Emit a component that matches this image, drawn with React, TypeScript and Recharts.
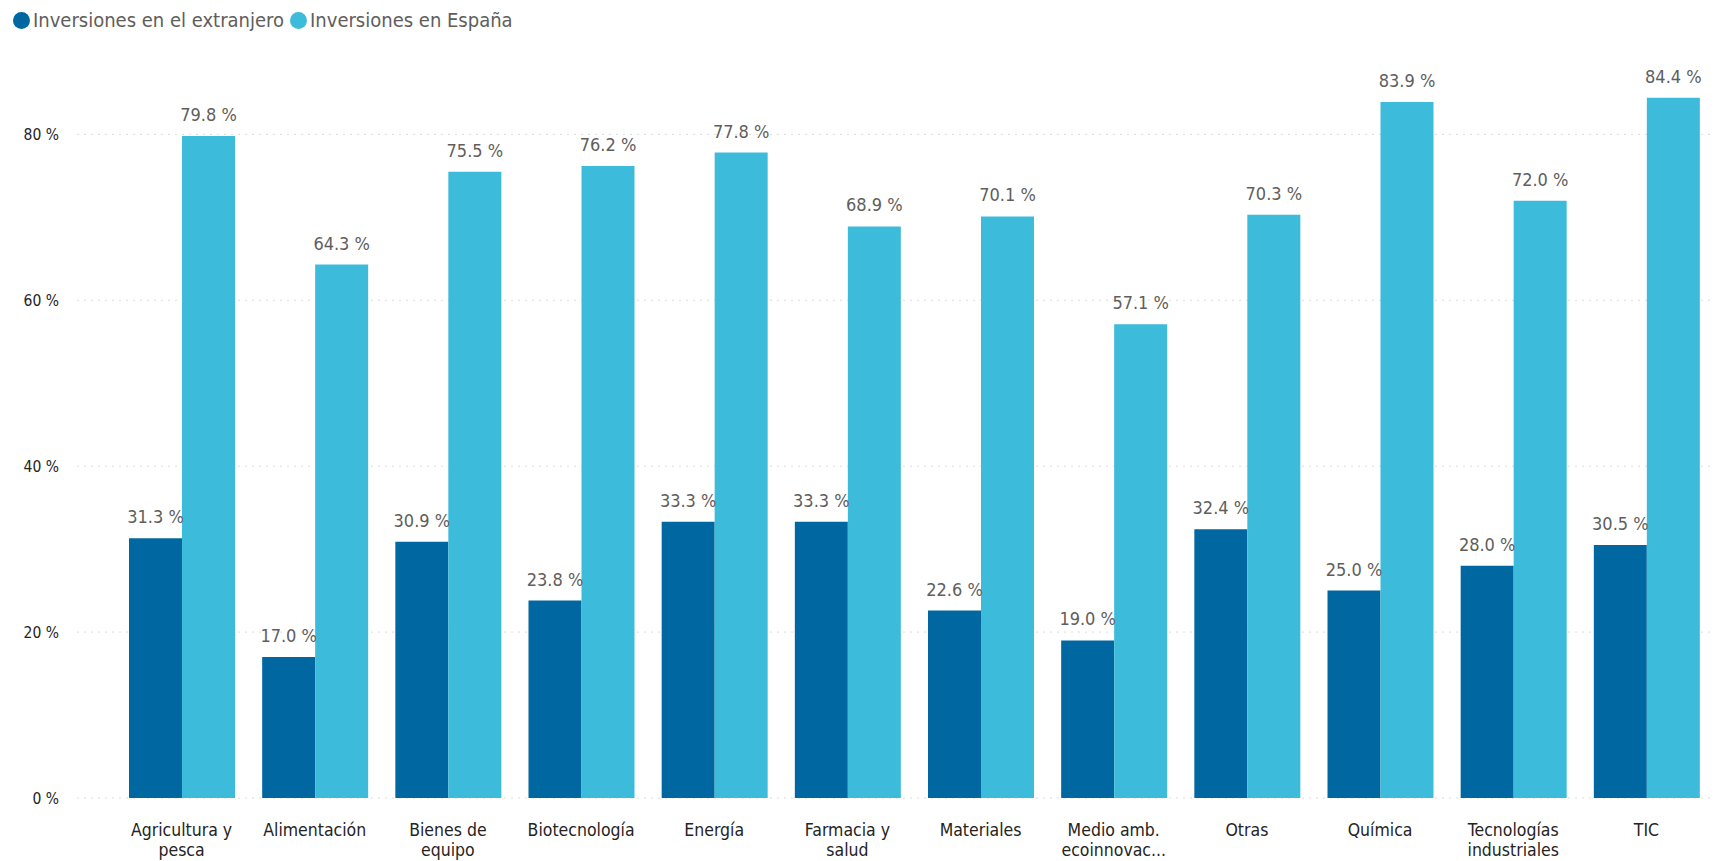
import React from "react";
import { BarChart, Bar, XAxis, YAxis, CartesianGrid, LabelList } from "recharts";

const categories = [
  "Agricultura y pesca",
  "Alimentación",
  "Bienes de equipo",
  "Biotecnología",
  "Energía",
  "Farmacia y salud",
  "Materiales",
  "Medio amb. ecoinnovación",
  "Otras",
  "Química",
  "Tecnologías industriales",
  "TIC",
];

const tickLabels = [
  ["Agricultura y", "pesca"],
  ["Alimentación"],
  ["Bienes de", "equipo"],
  ["Biotecnología"],
  ["Energía"],
  ["Farmacia y", "salud"],
  ["Materiales"],
  ["Medio amb.", "ecoinnovac..."],
  ["Otras"],
  ["Química"],
  ["Tecnologías", "industriales"],
  ["TIC"],
];

const extranjero = [31.3, 17.0, 30.9, 23.8, 33.3, 33.3, 22.6, 19.0, 32.4, 25.0, 28.0, 30.5];
const espana = [79.8, 64.3, 75.5, 76.2, 77.8, 68.9, 70.1, 57.1, 70.3, 83.9, 72.0, 84.4];

const yTicks = [0, 20, 40, 60, 80];
const yMax = 88;

const seriesNames = ["Inversiones en el extranjero", "Inversiones en España"];
const colors = ["#0067A0", "#3DBBDB"];

const data = categories.map((c, i) => ({
  category: c,
  extranjero: extranjero[i],
  espana: espana[i],
}));

const FONT = "'DejaVu Sans Condensed', 'Liberation Sans Narrow', 'Roboto', sans-serif";

const XTick = (props: any) => {
  const { x, y, payload } = props;
  const i = categories.indexOf(payload.value);
  const lines = i >= 0 ? tickLabels[i] : [String(payload.value)];
  return (
    <g>
      {lines.map((l, k) => (
        <text
          key={k}
          x={x}
          y={y + 38 + k * 20}
          textAnchor="middle"
          fill="#252423"
          fontSize={17.5}
          fontFamily={FONT}
        >
          {l}
        </text>
      ))}
    </g>
  );
};

const fmt = (v: any) => `${Number(v).toFixed(1)} %`;

const gridY = (props: any) => {
  const yAxis = props && props.yAxis;
  if (yAxis && typeof yAxis.scale === "function") {
    return yTicks.map((t) => yAxis.scale(t));
  }
  const off = props.offset;
  return yTicks.map((t) => off.top + off.height * (1 - t / yMax));
};

export default function App() {
  return (
    <div style={{ position: "absolute", left: 0, top: 0, width: 1724, height: 861, background: "#fff" }}>
      <div
        style={{
          position: "absolute",
          left: 13,
          top: 8,
          display: "flex",
          alignItems: "center",
          fontFamily: FONT,
          fontSize: 20,
          color: "#605E5C",
          whiteSpace: "nowrap",
          zIndex: 2,
        }}
      >
        {seriesNames.map((n, i) => (
          <div key={n} style={{ display: "flex", alignItems: "center", marginRight: 6 }}>
            <span
              style={{
                display: "inline-block",
                width: 17,
                height: 17,
                borderRadius: "50%",
                background: colors[i],
                marginRight: 3,
              }}
            />
            <span>{n}</span>
          </div>
        ))}
      </div>
      <BarChart
        width={1724}
        height={861}
        data={data}
        margin={{ top: 68, right: 9, left: 0, bottom: 0 }}
        barGap={0}
        barCategoryGap={14}
      >
        <CartesianGrid
          vertical={false}
          stroke="#dcdcdc"
          strokeDasharray="2 5"
          horizontalCoordinatesGenerator={gridY}
        />
        <XAxis
          dataKey="category"
          axisLine={false}
          tickLine={false}
          tickSize={0}
          tickMargin={0}
          height={63}
          interval={0}
          padding={{ left: 38, right: 2 }}
          tick={<XTick />}
        />
        <YAxis
          width={77}
          domain={[0, yMax]}
          ticks={yTicks}
          axisLine={false}
          tickLine={false}
          tickSize={0}
          tickMargin={18}
          tickFormatter={(v: any) => `${v} %`}
          tick={{ fill: "#252423", fontSize: 15.5, fontFamily: FONT }}
        />
        <Bar dataKey="extranjero" name={seriesNames[0]} fill={colors[0]} isAnimationActive={false}>
          <LabelList
            dataKey="extranjero"
            position="top"
            offset={15}
            formatter={fmt}
            fill="#605E5C"
            fontSize={18}
            fontFamily={FONT}
          />
        </Bar>
        <Bar dataKey="espana" name={seriesNames[1]} fill={colors[1]} isAnimationActive={false}>
          <LabelList
            dataKey="espana"
            position="top"
            offset={15}
            formatter={fmt}
            fill="#605E5C"
            fontSize={18}
            fontFamily={FONT}
          />
        </Bar>
      </BarChart>
    </div>
  );
}
